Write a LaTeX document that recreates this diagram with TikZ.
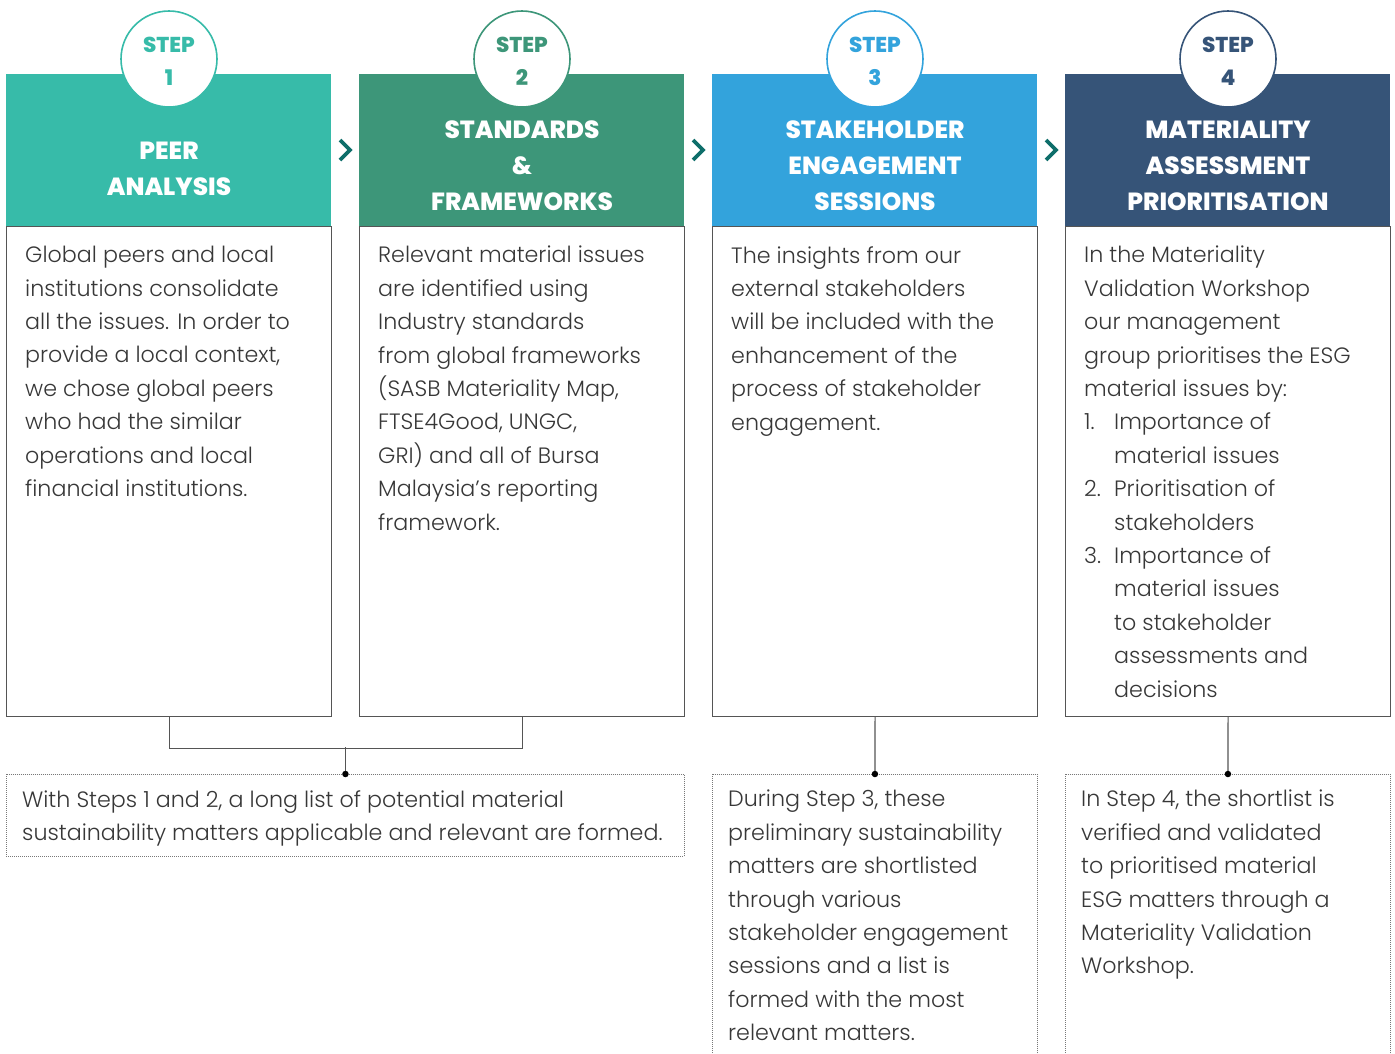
\documentclass[tikz,border=0pt]{standalone}
\usepackage{fontspec}
\setmainfont{Poppins}
\newfontfamily\lightfam{Poppins Light}
\newfontfamily\heavyfam{Poppins ExtraBold}
\definecolor{cA}{RGB}{55,187,169}
\definecolor{cB}{RGB}{61,150,121}
\definecolor{cC}{RGB}{51,163,220}
\definecolor{cD}{RGB}{54,84,120}
\definecolor{chevcol}{RGB}{14,110,106}
\definecolor{txt}{RGB}{55,55,55}
\definecolor{boxgray}{RGB}{85,85,85}
\definecolor{notegray}{RGB}{120,120,120}
\newcommand{\bodyfont}{\lightfam\fontsize{22.2}{33.4}\selectfont}
\newcommand{\headfont}{\heavyfam\fontsize{24.8}{36}\selectfont}
\newcommand{\stepfnt}{\heavyfam\fontsize{21.5}{33}\selectfont}
\newcommand{\ind}{\hspace*{30pt}}
\newcommand{\num}[1]{\makebox[30pt][l]{#1}}
\begin{document}
\begin{tikzpicture}[x=1pt,y=-1pt,
  head/.style={fill=#1, draw=none, minimum width=325pt, minimum height=152pt,
    anchor=north west, inner sep=0},
  body/.style={draw=boxgray, line width=1.2pt, minimum width=325pt,
    minimum height=490pt, anchor=north west, inner sep=0},
  stepcircle/.style={circle, draw=#1, fill=white, line width=1.6pt,
    minimum size=96pt, inner sep=0, text=#1, font=\stepfnt, align=center},
  headtext/.style={text=white, font=\headfont, align=center, inner sep=0},
  bodytext/.style={anchor=north west, align=left, inner sep=0, text=txt,
    font=\bodyfont},
  note/.style={draw=notegray, dash pattern=on 1pt off 1pt, line width=0.9pt,
    anchor=north west, inner sep=0},
  chev/.style={draw=chevcol, line width=3.6pt, line join=miter},
  link/.style={draw=boxgray, line width=1.2pt},
  joint/.style={circle, fill=black, inner sep=0, minimum size=6.5pt}
]
\useasboundingbox (0,0) rectangle (1395,1053);
\clip (0,0) rectangle (1395,1053);

% column headers
\node[head=cA] (h1) at (6,74) {};
\node[head=cB] (h2) at (359,74) {};
\node[head=cC] (h3) at (712,74) {};
\node[head=cD] (h4) at (1065,74) {};

% column bodies
\node[body] (b1) at (6,226) {};
\node[body] (b2) at (359,226) {};
\node[body] (b3) at (712,226) {};
\node[body] (b4) at (1065,226) {};

% step badges
\node[stepcircle=cA] (s1) at (169,59) {};
\node[stepcircle=cB] (s2) at (522,59) {};
\node[stepcircle=cC] (s3) at (875,59) {};
\node[stepcircle=cD] (s4) at (1228,59) {};
\foreach \s/\c/\n in {s1/cA/1, s2/cB/2, s3/cC/3, s4/cD/4}
  \node[text=\c, font=\stepfnt, align=center, inner sep=0] at ([yshift=-2pt]\s.center) {STEP\\\n};

% header titles
\node[headtext] (t1) at (169,169) {PEER\\ANALYSIS};
\node[headtext] (t2) at (522,166) {STANDARDS\\\&\\FRAMEWORKS};
\node[headtext] (t3) at (875,166) {STAKEHOLDER\\ENGAGEMENT\\SESSIONS};
\node[headtext] (t4) at (1228,166) {MATERIALITY\\ASSESSMENT\\PRIORITISATION};

% chevrons between columns
\draw[chev] (340,140) -- (350,150) -- (340,160);
\draw[chev] (693,140) -- (703,150) -- (693,160);
\draw[chev] (1046,140) -- (1056,150) -- (1046,160);

% body texts
\node[bodytext] (x1) at (25,246) {Global peers and local\\institutions consolidate\\all the issues. In order to\\provide a local context,\\we chose global peers\\who had the similar\\operations and local\\financial institutions.};
\node[bodytext] (x2) at (378,246) {Relevant material issues\\are identified using\\Industry standards\\from global frameworks\\(SASB Materiality Map,\\FTSE4Good, UNGC,\\GRI) and all of Bursa\\Malaysia’s reporting\\framework.};
\node[bodytext] (x3) at (731,246) {The insights from our\\external stakeholders\\will be included with the\\enhancement of the\\process of stakeholder\\engagement.};
\node[bodytext] (x4) at (1084,246) {In the Materiality\\Validation Workshop\\our management\\group prioritises the ESG\\material issues by:\\\num{1.}Importance of\\\ind material issues\\\num{2.}Prioritisation of\\\ind stakeholders\\\num{3.}Importance of\\\ind material issues\\\ind to stakeholder\\\ind assessments and\\\ind decisions};

% summary notes
\node[note, minimum width=678pt, minimum height=82pt] (n1) at (6,774) {};
\node[note, minimum width=325pt, minimum height=320pt] (n3) at (712,774) {};
\node[note, minimum width=325pt, minimum height=320pt] (n4) at (1065,774) {};

\node[bodytext] (y1) at (22,790) {With Steps 1 and 2, a long list of potential material\\sustainability matters applicable and relevant are formed.};
\node[bodytext] (y3) at (728,790) {During Step 3, these\\preliminary sustainability\\matters are shortlisted\\through various\\stakeholder engagement\\sessions and a list is\\formed with the most\\relevant matters.};
\node[bodytext] (y4) at (1081,790) {In Step 4, the shortlist is\\verified and validated\\to prioritised material\\ESG matters through a\\Materiality Validation\\Workshop.};

% connectors
\draw[link] (b1.south) -- ++(0,31) -| (b2.south);
\draw[link] (n1.north) -- ++(0,-27);
\draw[link] (b3.south) -- (n3.north);
\draw[link] (b4.south) -- (n4.north);
\node[joint] at (n1.north) {};
\node[joint] at (n3.north) {};
\node[joint] at (n4.north) {};
\end{tikzpicture}
\end{document}
